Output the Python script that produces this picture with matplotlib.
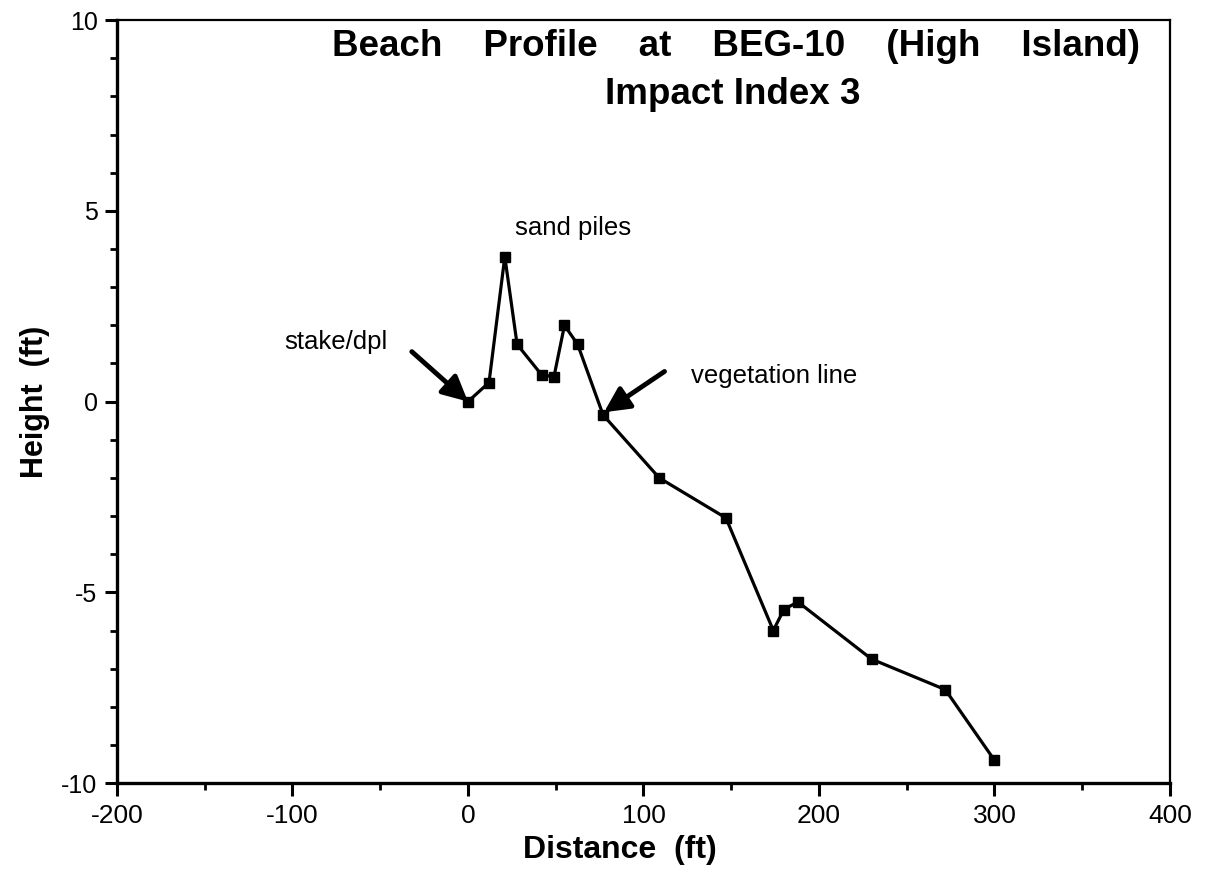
import matplotlib.pyplot as plt
from matplotlib.ticker import MultipleLocator

plt.rcParams['font.family'] = ['Liberation Sans', 'DejaVu Sans']
plt.rcParams['axes.unicode_minus'] = False

# survey points along the profile line
distance = [0, 12, 21, 28, 42, 49, 55, 62.5, 77, 109, 147, 174, 180, 188, 230, 272, 300]
height = [0.0, 0.5, 3.8, 1.5, 0.7, 0.65, 2.0, 1.5, -0.35, -2.0, -3.05, -6.0, -5.45, -5.25, -6.75, -7.55, -9.4]

x_ticks = [-200, -100, 0, 100, 200, 300, 400]
y_ticks = [-10, -5, 0, 5, 10]

fig = plt.figure(figsize=(12.12, 8.74), dpi=100)
ax = fig.add_axes([0.0965, 0.104, 0.8688, 0.873])

ax.plot(distance, height, color='black', lw=2.3, marker='s', markersize=6.5,
        markerfacecolor='black', markeredgecolor='black', zorder=3)

ax.set_xlim(-200, 400)
ax.set_ylim(-10, 10)
ax.set_xticks(x_ticks)
ax.set_yticks(y_ticks)
ax.xaxis.set_minor_locator(MultipleLocator(50))
ax.yaxis.set_minor_locator(MultipleLocator(1))
ax.tick_params(which='major', direction='out', length=9, width=2.2, labelsize=18, pad=5)
ax.tick_params(which='minor', direction='out', length=5, width=2.0)
ax.tick_params(axis='x', labelsize=19, pad=6)

for side in ['left', 'bottom']:
    ax.spines[side].set_linewidth(2.4)
for side in ['top', 'right']:
    ax.spines[side].set_linewidth(1.6)

ax.set_xlabel('Distance  (ft)', fontsize=23, fontweight='bold')
ax.xaxis.set_label_coords(0.478, -0.068)
ax.set_ylabel('Height  (ft)', fontsize=22, fontweight='bold', labelpad=8)

# title inside the plot area
ax.text(153, 9.3, 'Beach    Profile    at    BEG-10    (High    Island)',
        ha='center', va='center', fontsize=26.5, fontweight='bold')
ax.text(151, 8.04, 'Impact Index 3', ha='center', va='center',
        fontsize=26.5, fontweight='bold')

ax.text(60, 4.55, 'sand piles', ha='center', va='center', fontsize=18.5)

arrow = dict(arrowstyle='-|>', color='black', lw=3.5, mutation_scale=38,
             shrinkA=0, shrinkB=0)
ax.annotate('stake/dpl', xy=(0, 0), xytext=(-75, 1.57), fontsize=18.5,
            ha='center', va='center')
ax.annotate('', xy=(0, 0), xytext=(-32, 1.31), arrowprops=arrow)
ax.annotate('vegetation line', xy=(77.5, -0.28), xytext=(127, 0.68),
            fontsize=18.5, ha='left', va='center')
ax.annotate('', xy=(77.5, -0.28), xytext=(112, 0.79), arrowprops=arrow)

fig.savefig('out.png', dpi=100, facecolor='white')
